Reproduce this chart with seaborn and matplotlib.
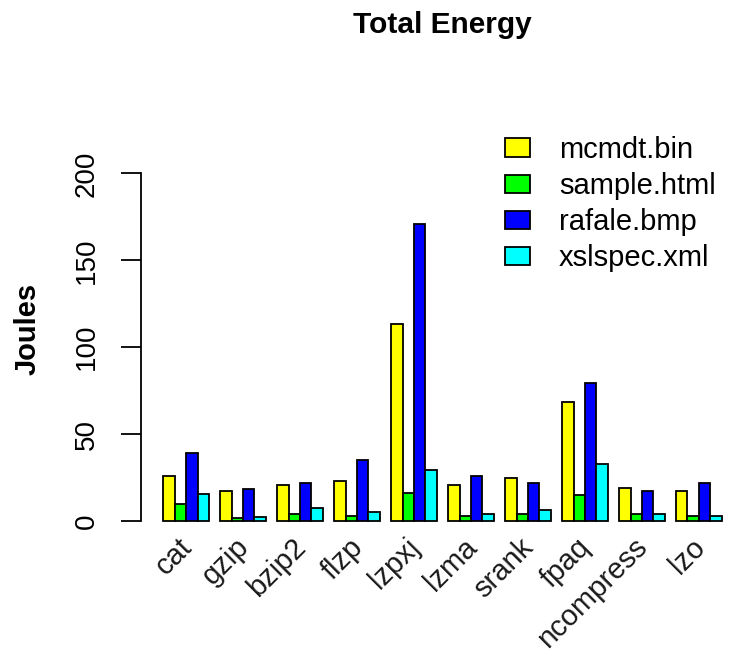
import matplotlib
matplotlib.use("Agg")
import matplotlib.pyplot as plt
import matplotlib.transforms as mtransforms
from matplotlib.patches import Patch
import seaborn as sns
import pandas as pd

# Compressors on the x axis
programs = ["cat", "gzip", "bzip2", "flzp", "lzpxj", "lzma", "srank", "fpaq",
            "ncompress", "lzo"]

# Test files (one bar per file within each compressor group)
files = ["mcmdt.bin", "sample.html", "rafale.bmp", "xslspec.xml"]

# Energy in joules, one list per file, ordered like `programs`
mcmdt_bin = [26.1, 17.3, 20.7, 23.0, 113.1, 20.7, 24.9, 68.3, 19.2, 17.3]
sample_html = [9.6, 1.9, 4.0, 3.1, 16.1, 3.1, 3.8, 15.0, 3.8, 3.1]
rafale_bmp = [39.1, 18.4, 21.9, 34.9, 171.0, 26.1, 21.9, 79.4, 17.3, 21.9]
xslspec_xml = [15.3, 2.1, 7.5, 5.4, 29.3, 4.2, 6.5, 32.6, 4.2, 3.1]

y_ticks = [0, 50, 100, 150, 200]
bar_colors = ["#FFFF00", "#00FF00", "#0000FF", "#00FFFF"]

series = [mcmdt_bin, sample_html, rafale_bmp, xslspec_xml]
df = pd.DataFrame({
    "program": [p for _ in files for p in programs],
    "file": [f for f in files for _ in programs],
    "joules": [v for s in series for v in s],
})

sns.set_style("white")
plt.rcParams["font.family"] = ["Liberation Sans", "DejaVu Sans"]
plt.rcParams["text.color"] = "black"
plt.rcParams["axes.labelcolor"] = "black"
plt.rcParams["xtick.color"] = "black"
plt.rcParams["ytick.color"] = "black"

W, H = 740, 659
fig = plt.figure(figsize=(W / 100, H / 100), dpi=100)
left, right, top, bottom = 141, 744, 121.5, 536.4
ax = fig.add_axes([left / W, (H - bottom) / H, (right - left) / W, (bottom - top) / H])

sns.barplot(data=df, x="program", y="joules", hue="file", order=programs,
            hue_order=files, palette=bar_colors, width=0.8, gap=0,
            saturation=1, errorbar=None, edgecolor="black", linewidth=1.3,
            legend=False, ax=ax)

ax.set_xlim(-0.792, 9.792)
ax.set_ylim(-8.84, 229.84)

for side in ("top", "right", "bottom"):
    ax.spines[side].set_visible(False)
ax.spines["left"].set_bounds(0, 200)
ax.spines["left"].set_linewidth(1.3)
ax.spines["left"].set_color("black")

ax.set_yticks(y_ticks)
ax.set_yticklabels([str(t) for t in y_ticks], rotation=90, va="center")
ax.tick_params(axis="y", length=14.4, width=1.3, pad=15.5, labelsize=20,
               left=True, color="black", labelcolor="black")

ax.set_xticks(range(len(programs)))
ax.set_xticklabels(programs, rotation=45, ha="right", rotation_mode="anchor",
                   va="center")
ax.tick_params(axis="x", length=0, pad=4.5, labelsize=21, labelcolor="#1a1a1a")
shift = mtransforms.ScaledTranslation(1 / 72, 0, fig.dpi_scale_trans)
for lab in ax.get_xticklabels():
    lab.set_transform(lab.get_transform() + shift)

ax.set_xlabel("")
ax.set_ylabel("Joules", fontsize=21, fontweight="bold", rotation=90)
ax.yaxis.set_label_coords((28 - left) / (right - left), 0.5)
ax.yaxis.label.set_va("center")

fig.text(442 / W, 1 - 33 / H, "Total Energy", ha="center", va="baseline",
         fontsize=21.5, fontweight="bold")

handles = [Patch(facecolor=c, edgecolor="black", linewidth=1.3) for c in bar_colors]
fig.legend(handles, files, loc="upper left",
           bbox_to_anchor=(505 / W, 1 - 136 / H), frameon=False,
           fontsize=21, handlelength=0.85, handleheight=0.6,
           handletextpad=1.0, labelspacing=0.28, borderpad=0,
           borderaxespad=0)

fig.savefig("out.png", dpi=100, facecolor="white")
